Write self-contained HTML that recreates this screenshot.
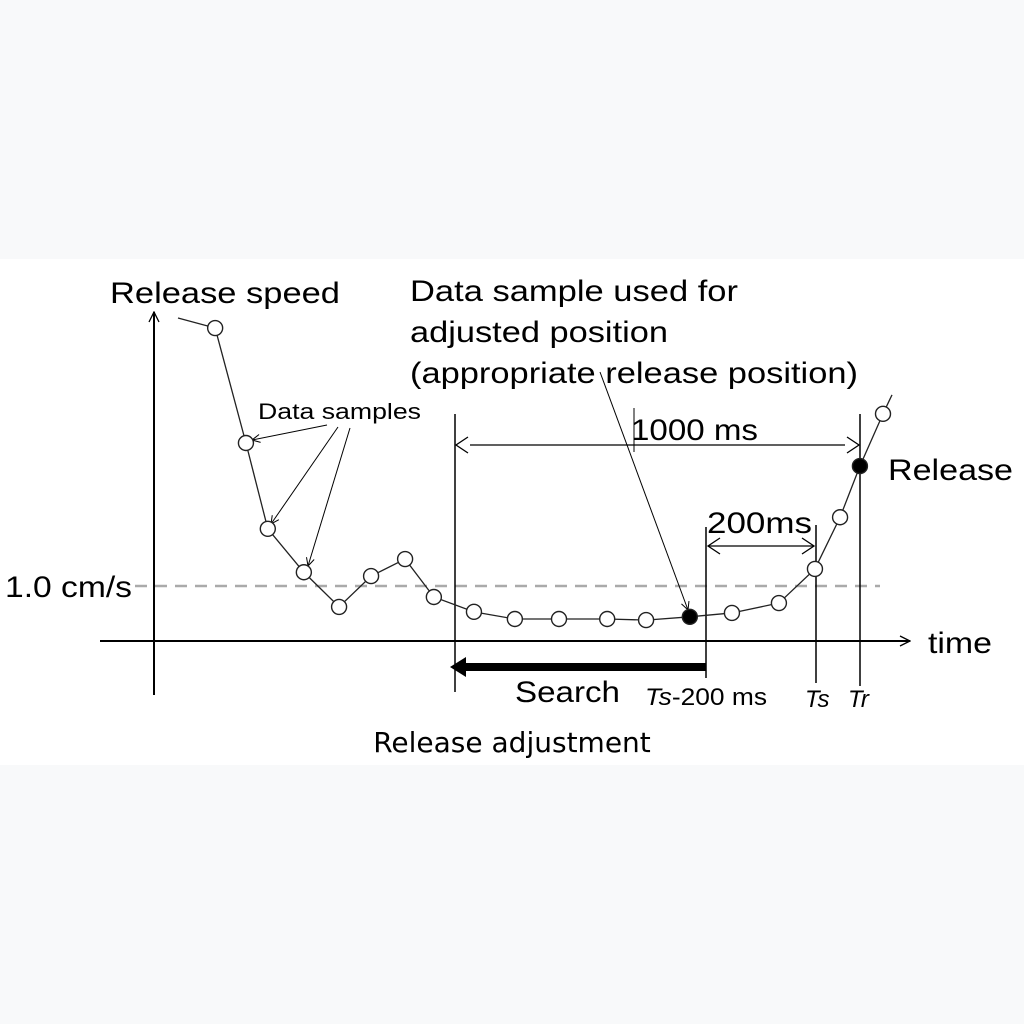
<!DOCTYPE html>
<html><head><meta charset="utf-8"><style>
html,body{margin:0;padding:0;background:#f8f9fa;}
svg{display:block;font-family:"Liberation Sans",Arial,sans-serif;}
</style></head><body>
<svg id="c" width="1024" height="1024" viewBox="0 0 1024 1024">
<defs>
<marker id="ah" markerWidth="12" markerHeight="12" refX="11" refY="6" orient="auto" markerUnits="userSpaceOnUse"><path d="M1,1 L11,6 L1,11" fill="none" stroke="#000" stroke-width="1.3"/></marker>
<marker id="sm" markerWidth="10" markerHeight="10" refX="9" refY="5" orient="auto" markerUnits="userSpaceOnUse"><path d="M1,1 L9,5 L1,9" fill="none" stroke="#000" stroke-width="1"/></marker>
</defs>
<rect x="0" y="259" width="1024" height="506" fill="#fff"/>
<line x1="154" y1="695" x2="154" y2="312" stroke="#000" stroke-width="2" marker-end="url(#ah)"/>
<line x1="100" y1="641" x2="910" y2="641" stroke="#000" stroke-width="2" marker-end="url(#ah)"/>
<text x="110" y="303" font-size="30" textLength="230" lengthAdjust="spacingAndGlyphs">Release speed</text>
<text x="928" y="653" font-size="30" textLength="64" lengthAdjust="spacingAndGlyphs">time</text>
<line x1="135" y1="586" x2="880" y2="586" stroke="#aaa" stroke-width="2.5" stroke-dasharray="12,8"/>
<text x="5" y="597" font-size="30" textLength="127" lengthAdjust="spacingAndGlyphs">1.0 cm/s</text>
<text x="410" y="301" font-size="30" textLength="328" lengthAdjust="spacingAndGlyphs">Data sample used for</text>
<text x="410" y="342" font-size="30" textLength="258" lengthAdjust="spacingAndGlyphs">adjusted position</text>
<text x="410" y="383" font-size="30" textLength="448" lengthAdjust="spacingAndGlyphs">(appropriate release position)</text>
<line x1="600" y1="372" x2="688" y2="610" stroke="#000" stroke-width="1" marker-end="url(#sm)"/>
<text x="258" y="419" font-size="22" textLength="163" lengthAdjust="spacingAndGlyphs">Data samples</text>
<line x1="327" y1="425" x2="252" y2="440" stroke="#000" stroke-width="1" marker-end="url(#sm)"/>
<line x1="338" y1="427" x2="271" y2="524" stroke="#000" stroke-width="1" marker-end="url(#sm)"/>
<line x1="350" y1="428" x2="308" y2="566" stroke="#000" stroke-width="1" marker-end="url(#sm)"/>
<line x1="455" y1="414" x2="455" y2="692" stroke="#000" stroke-width="1.5"/>
<line x1="860" y1="414" x2="860" y2="686" stroke="#000" stroke-width="1.5"/>
<line x1="706" y1="527" x2="706" y2="678" stroke="#000" stroke-width="1.5"/>
<line x1="816" y1="525" x2="816" y2="683" stroke="#000" stroke-width="1.5"/>
<line x1="470" y1="445" x2="845" y2="445" stroke="#000" stroke-width="1.3"/>
<path d="M468,437 L456,445 L468,453 M847,437 L859,445 L847,453" fill="none" stroke="#000" stroke-width="1.3"/>
<line x1="634" y1="408" x2="634" y2="452" stroke="#000" stroke-width="1"/>
<text x="631" y="440" font-size="30" textLength="127" lengthAdjust="spacingAndGlyphs">1000 ms</text>
<line x1="708" y1="546" x2="814" y2="546" stroke="#000" stroke-width="1.3"/>
<path d="M720,538 L708,546 L720,554 M802,538 L814,546 L802,554" fill="none" stroke="#000" stroke-width="1.3"/>
<text x="707" y="533" font-size="30" textLength="105" lengthAdjust="spacingAndGlyphs">200ms</text>
<line x1="706" y1="667" x2="462" y2="667" stroke="#000" stroke-width="8"/>
<path d="M466,657 L450,667 L466,677 Z" fill="#000"/>
<text x="515" y="702" font-size="30" textLength="105" lengthAdjust="spacingAndGlyphs">Search</text>
<text x="645" y="705" font-size="24" textLength="122" lengthAdjust="spacingAndGlyphs"><tspan font-style="italic">Ts</tspan>-200 ms</text>
<text x="805" y="707" font-size="24" font-style="italic">Ts</text>
<text x="848" y="707" font-size="24" font-style="italic">Tr</text>
<text x="888" y="480" font-size="30" textLength="125" lengthAdjust="spacingAndGlyphs">Release</text>
<text x="512" y="752" font-size="28" text-anchor="middle" font-family="'DejaVu Sans',sans-serif">Release adjustment</text>
<g id="series"></g>
</svg>
<script>
const times = [151,227,281,370,457,536,620,691,790,891,1000,1119,1215,1323,1427,1543,1632,1694,1743,1800];
const speeds = [5.69,3.6,2.04,1.25,0.62,1.18,1.49,0.8,0.53,0.4,0.4,0.4,0.38,0.44,0.51,0.69,1.31,2.25,3.18,4.13];
const filledIdx = [13,18];
function xs(t){return 154 + t*0.405;}
function ys(v){return 641 - v*55;}
const NS="http://www.w3.org/2000/svg";
const g=document.getElementById('series');
let d="M178,318 L"+xs(times[0])+","+ys(speeds[0]);
for(let i=1;i<times.length;i++) d+=" L"+xs(times[i])+","+ys(speeds[i]);
const lx=xs(times[times.length-1]), ly=ys(speeds[speeds.length-1]);
d+=" L"+(lx+9)+","+(ly-19);
const p=document.createElementNS(NS,'path');
p.setAttribute('d',d);p.setAttribute('fill','none');p.setAttribute('stroke','#222');p.setAttribute('stroke-width','1.3');


g.appendChild(p);
for(let i=0;i<times.length;i++){
  const c=document.createElementNS(NS,'circle');
  c.setAttribute('cx',xs(times[i]));c.setAttribute('cy',ys(speeds[i]));c.setAttribute('r',7.5);
  const f=filledIdx.includes(i);
  c.setAttribute('fill',f?'#000':'#fff');c.setAttribute('stroke','#222');c.setAttribute('stroke-width','1.4');
  
  
  g.appendChild(c);
}
</script>
</body></html>
